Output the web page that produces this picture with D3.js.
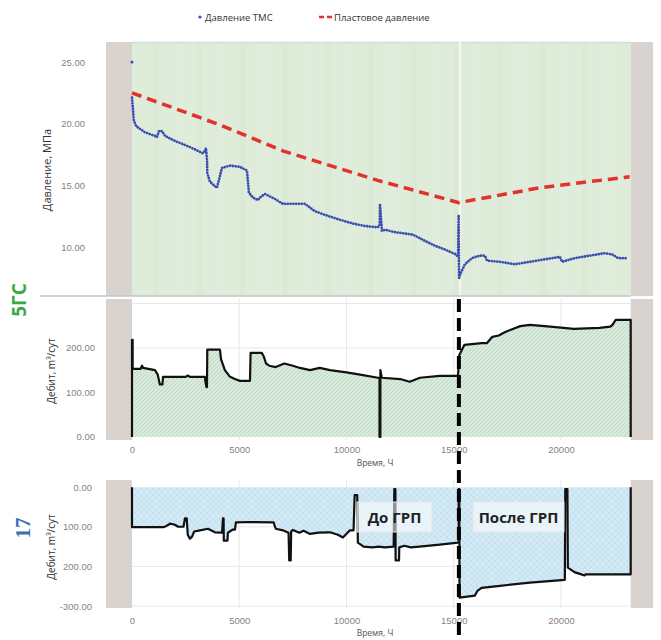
<!DOCTYPE html>
<html><head><meta charset="utf-8">
<script src="https://cdn.jsdelivr.net/npm/d3@7"></script>
<style>body{margin:0;background:#fff;} svg{display:block;font-family:"Open Sans",Roboto,sans-serif;}</style>
</head><body>
<svg id="c" width="661" height="640"></svg>
<script>
// ---------- data ----------
const xTicks = [0, 5000, 10000, 15000, 20000];
const fracTime = 15240;
const dataEnd = 23250;
const pressureTicks = [10, 15, 20, 25];
const rateTicks = [0, 100, 200];
const inj17Ticks = [0, -100, -200, -300];
const inj17TickLabels = ["0.00", "100.00", "200.00", "-300.00"];

// Давление ТМС (time h, MPa)
const tmsFirst = [[0, 25.0]];
const tmsPressure = [
 [0,22.1],[50,21.1],[80,20.3],[190,19.8],[600,19.3],[1070,19.0],[1160,18.9],[1260,19.4],[1400,19.4],
 [1540,19.0],[2000,18.6],[2700,18.1],[3300,17.6],[3400,17.8],[3450,18.0],[3500,17.0],[3510,16.0],
 [3630,15.3],[3820,15.0],[3960,14.8],[4050,15.4],[4190,16.4],[4570,16.6],[5030,16.5],[5360,16.2],
 [5400,15.4],[5450,14.4],[5640,14.0],[5870,13.8],[5960,14.0],[6200,14.3],[6660,13.9],[7030,13.5],
 [7590,13.5],[8060,13.5],[8530,12.9],[9000,12.6],[9700,12.2],[10300,11.9],[10860,11.7],[11460,11.6],
 [11550,11.8],[11560,13.5],[11600,12.6],[11650,11.3],[11790,11.4],[12260,11.2],[13100,11.0],
 [13650,10.5],[14120,10.1],[14580,9.8],[15100,9.4],[15200,9.2],[15230,12.6],[15250,7.5],[15330,7.9],
 [15520,8.6],[15850,9.1],[16220,9.3],[16450,9.3],[16550,8.9],[17150,8.8],[17850,8.6],[18550,8.8],
 [19250,9.0],[19950,9.2],[20050,8.8],[20650,9.1],[21350,9.3],[22050,9.5],[22380,9.4],[22660,9.1],[23070,9.1]
];
// Пластовое давление
const resPressure = [[0,22.5],[4100,19.9],[7030,17.8],[11460,15.4],[15240,13.6],[19000,14.8],[23200,15.7]];

// Дебит 5ГС (m3/сут)
const rate5GS = [
 [0,0],[0,218],[30,218],[30,153],[400,153],[470,160],[520,155],[1070,150],[1200,140],[1300,118],[1420,118],
 [1445,135],[2500,135],[2600,138],[2700,135],[3400,135],[3420,125],[3470,112],[3495,112],[3510,196],
 [4100,196],[4150,175],[4330,150],[4570,135],[4800,130],[5030,126],[5500,126],[5530,189],[6050,189],
 [6150,180],[6250,165],[6400,160],[6700,157],[7100,165],[7500,160],[7830,155],[8300,150],[8750,155],
 [9230,150],[10000,145],[10770,139],[11460,133],[11540,133],[11540,0],[11580,0],[11580,150],[11650,133],
 [12500,130],[12950,124],[13420,133],[14350,137],[15200,137],[15260,184],[15500,207],[16300,211],
 [16550,211],[16800,225],[17100,228],[17400,236],[18100,249],[18550,252],[19500,248],[20600,243],
 [21800,245],[22300,248],[22400,252],[22550,263],[23250,263],[23250,0]
];
// Дебит 17 (m3/сут, injection shown negative)
const rate17 = [
 [0,0],[0,-101],[1500,-101],[1700,-95],[1770,-92],[2000,-95],[2150,-100],[2400,-100],[2470,-79],[2550,-79],
 [2600,-120],[2700,-130],[2800,-125],[2900,-112],[3170,-109],[3540,-105],[3870,-114],[4200,-115],[4240,-79],
 [4270,-79],[4280,-135],[4450,-135],[4470,-115],[4700,-107],[4800,-107],[4846,-89],[5500,-88],[6600,-89],
 [6700,-105],[7037,-109],[7300,-115],[7330,-185],[7400,-185],[7420,-112],[7500,-108],[7800,-115],[8000,-110],
 [8300,-118],[8700,-115],[9230,-114],[9600,-120],[9833,-127],[10160,-109],[10330,-109],[10380,-20],[10500,-20],
 [10530,-140],[10800,-150],[11200,-152],[11500,-150],[11790,-152],[12200,-150],[12230,-5],[12280,-5],
 [12290,-185],[12450,-185],[12460,-152],[12700,-148],[13000,-152],[13400,-150],[14350,-145],[15190,-140],
 [15230,-140],[15230,-5],[15260,-5],[15270,-279],[15980,-274],[16100,-262],[16300,-254],[17150,-249],
 [18550,-241],[20180,-234],[20200,-5],[20300,-5],[20320,-203],[20650,-215],[20880,-219],[21100,-223],
 [21150,-220],[23250,-220],[23250,0]
];

// ---------- drawing ----------
const svg = d3.select("#c");
const x = d3.scaleLinear().domain([-1212, 24290]).range([106, 653]);
const yP = d3.scaleLinear().domain([6.03, 26.62]).range([296, 42]);
const yR = d3.scaleLinear().domain([-7, 310]).range([440, 299]);
const yI = d3.scaleLinear().domain([-305, 18]).range([608, 480]);

const tickColor = "#8c7f78";
const grayBand = "#d9d3cf";

const defs = svg.append("defs");
const pg = defs.append("pattern").attr("id","hatchG").attr("patternUnits","userSpaceOnUse")
  .attr("width",4).attr("height",4);
pg.append("rect").attr("width",4).attr("height",4).attr("fill","#d7eadb");
pg.append("path").attr("d","M0,4 L4,0 M-1,1 L1,-1 M3,5 L5,3").attr("stroke","#b8d3bd").attr("stroke-width",0.8);
const pb = defs.append("pattern").attr("id","hatchB").attr("patternUnits","userSpaceOnUse")
  .attr("width",6).attr("height",6);
pb.append("rect").attr("width",6).attr("height",6).attr("fill","#d2e9f6");
pb.append("path").attr("d","M0,6 L6,0 M0,0 L6,6").attr("stroke","#c2dcec").attr("stroke-width",0.7);

function bands(y0, y1) {
  svg.append("rect").attr("x", x(-1212)).attr("y", y0).attr("width", x(0)-x(-1212)).attr("height", y1-y0).attr("fill", grayBand);
  svg.append("rect").attr("x", x(dataEnd)).attr("y", y0).attr("width", x(24290)-x(dataEnd)).attr("height", y1-y0).attr("fill", grayBand);
}

// ===== Top panel =====
svg.append("rect").attr("x", x(0)).attr("y", 42).attr("width", x(dataEnd)-x(0)).attr("height", 254).attr("fill", "#deecd9");
d3.range(1000, 23000, 1000).forEach((t,i) => {
  svg.append("rect").attr("x", x(t)).attr("y", 42).attr("width", 6).attr("height", 254)
    .attr("fill", i%2 ? "#e3efde" : "#d9e9d4").attr("opacity", 0.6);
});
bands(42, 296);
svg.append("line").attr("x1", x(0)).attr("x2", x(dataEnd)).attr("y1", 42.5).attr("y2", 42.5).attr("stroke", "#c9dfe6").attr("stroke-width", 1.5);
svg.append("line").attr("x1", x(fracTime)+1).attr("x2", x(fracTime)+1).attr("y1", 42).attr("y2", 296).attr("stroke", "#f6f8f4").attr("stroke-width", 2);
svg.append("line").attr("x1", 40).attr("x2", x(dataEnd)).attr("y1", 296).attr("y2", 296).attr("stroke", "#c4c4c4").attr("stroke-width", 1.5);

const axP = svg.append("g").attr("transform", "translate(88,0)")
  .call(d3.axisLeft(yP).tickValues(pressureTicks).tickFormat(d3.format(".2f")).tickSize(0));
axP.select(".domain").remove();
axP.selectAll("text").attr("fill", tickColor).attr("font-size", 9.5);

const lineP = d3.line().x(d => x(d[0])).y(d => yP(d[1]));
svg.append("path").datum(resPressure).attr("d", lineP).attr("fill", "none")
  .attr("stroke", "#e2322b").attr("stroke-width", 3.5).attr("stroke-dasharray", "10,6");
svg.append("path").datum(tmsPressure).attr("d", lineP).attr("fill", "none")
  .attr("stroke", "#3a4db0").attr("stroke-width", 2.8).attr("stroke-linecap", "round").attr("stroke-dasharray", "0,2.8");
svg.selectAll("circle.first").data(tmsFirst).enter().append("circle")
  .attr("cx", d => x(d[0])).attr("cy", d => yP(d[1])).attr("r", 1.5).attr("fill", "#3a4db0");

svg.append("text").attr("transform", "translate(51,170) rotate(-90)").attr("text-anchor", "middle")
  .attr("font-size", 11).attr("fill", "#333").text("Давление, МПа");

// legend
svg.append("circle").attr("cx", 200).attr("cy", 17).attr("r", 1.6).attr("fill", "#3a4db0");
svg.append("text").attr("x", 205).attr("y", 20.5).attr("font-size", 9.5).attr("fill", "#333").text("Давление ТМС");
svg.append("line").attr("x1", 319).attr("x2", 333).attr("y1", 17).attr("y2", 17).attr("stroke", "#e2322b")
  .attr("stroke-width", 2.5).attr("stroke-dasharray", "5,3");
svg.append("text").attr("x", 334).attr("y", 20.5).attr("font-size", 9.5).attr("fill", "#333").text("Пластовое давление");

// ===== Middle panel =====
bands(299, 440);
const gm = svg.append("g");
[100, 200, 300].forEach(v => gm.append("line").attr("x1", x(0)).attr("x2", x(dataEnd)).attr("y1", yR(v)).attr("y2", yR(v)).attr("stroke", "#e8e8e8"));
xTicks.slice(1).forEach(t => gm.append("line").attr("x1", x(t)).attr("x2", x(t)).attr("y1", 299).attr("y2", 440).attr("stroke", "#e8e8e8"));
const areaR = d3.area().x(d => x(d[0])).y0(yR(0)).y1(d => yR(d[1]));
svg.append("path").datum(rate5GS).attr("d", areaR).attr("fill", "url(#hatchG)");
svg.append("path").datum(rate5GS).attr("d", d3.line().x(d => x(d[0])).y(d => yR(d[1]))).attr("fill", "none")
  .attr("stroke", "#111").attr("stroke-width", 2.2).attr("stroke-linejoin", "round");
const axR = svg.append("g").attr("transform", "translate(98,0)")
  .call(d3.axisLeft(yR).tickValues(rateTicks).tickFormat(d3.format(".2f")).tickSize(0));
axR.select(".domain").remove();
axR.selectAll("text").attr("fill", tickColor).attr("font-size", 9.5);
const axXm = svg.append("g").attr("transform", "translate(0,443)")
  .call(d3.axisBottom(x).tickValues(xTicks).tickFormat(d3.format("d")).tickSize(0));
axXm.select(".domain").remove();
axXm.selectAll("text").attr("fill", tickColor).attr("font-size", 9.5);
svg.append("text").attr("x", 375).attr("y", 466).attr("text-anchor", "middle").attr("font-size", 8.5).attr("fill", "#555").text("Время, Ч");
svg.append("text").attr("transform", "translate(55,371) rotate(-90)").attr("text-anchor", "middle")
  .attr("font-size", 10).attr("fill", "#333").text("Дебит, m³/сут");

// ===== Bottom panel =====
bands(480, 608);
const gb = svg.append("g");
[-100, -200, -300].forEach(v => gb.append("line").attr("x1", x(0)).attr("x2", x(dataEnd)).attr("y1", yI(v)).attr("y2", yI(v)).attr("stroke", "#e8e8e8"));
xTicks.slice(1).forEach(t => gb.append("line").attr("x1", x(t)).attr("x2", x(t)).attr("y1", 480).attr("y2", 608).attr("stroke", "#e8e8e8"));
const areaI = d3.area().x(d => x(d[0])).y0(yI(0)).y1(d => yI(d[1]));
svg.append("path").datum(rate17).attr("d", areaI).attr("fill", "url(#hatchB)");
svg.append("path").datum(rate17).attr("d", d3.line().x(d => x(d[0])).y(d => yI(d[1]))).attr("fill", "none")
  .attr("stroke", "#111").attr("stroke-width", 2.2).attr("stroke-linejoin", "round");
const axI = svg.append("g").attr("transform", "translate(95,0)")
  .call(d3.axisLeft(yI).tickValues(inj17Ticks).tickFormat((d,i) => inj17TickLabels[i]).tickSize(0));
axI.select(".domain").remove();
axI.selectAll("text").attr("fill", tickColor).attr("font-size", 9.5);
const axXb = svg.append("g").attr("transform", "translate(0,614)")
  .call(d3.axisBottom(x).tickValues(xTicks).tickFormat(d3.format("d")).tickSize(0));
axXb.select(".domain").remove();
axXb.selectAll("text").attr("fill", tickColor).attr("font-size", 9.5);
svg.append("text").attr("x", 375).attr("y", 636).attr("text-anchor", "middle").attr("font-size", 8.5).attr("fill", "#555").text("Время, Ч");
svg.append("text").attr("transform", "translate(55,547) rotate(-90)").attr("text-anchor", "middle")
  .attr("font-size", 10).attr("fill", "#333").text("Дебит, m³/сут");

// annotation boxes
[[357, 432, "До ГРП"], [473, 564, "После ГРП"]].forEach(([a, b, t]) => {
  svg.append("rect").attr("x", a).attr("y", 502).attr("width", b-a).attr("height", 30)
    .attr("fill", "#fff").attr("fill-opacity", 0.55).attr("stroke", "#e4e4e4");
  svg.append("text").attr("x", (a+b)/2).attr("y", 523).attr("text-anchor", "middle")
    .attr("font-size", 15).attr("font-weight", "bold").attr("fill", "#222").text(t);
});

// frac marker
svg.append("line").attr("x1", x(fracTime)).attr("x2", x(fracTime)).attr("y1", 299).attr("y2", 640)
  .attr("stroke", "#000").attr("stroke-width", 4).attr("stroke-dasharray", "13,6");

// well labels
svg.append("text").attr("transform", "translate(26,300) rotate(-90)").attr("text-anchor", "middle")
  .attr("font-size", 19).attr("font-weight", "bold").attr("fill", "#3aa94c").text("5ГС");
svg.append("text").attr("transform", "translate(30,528) rotate(-90)").attr("text-anchor", "middle")
  .attr("font-size", 21).attr("font-weight", "bold").attr("font-family", "'Liberation Serif',serif").attr("fill", "#3d6db5").text("17");
</script>
</body></html>
